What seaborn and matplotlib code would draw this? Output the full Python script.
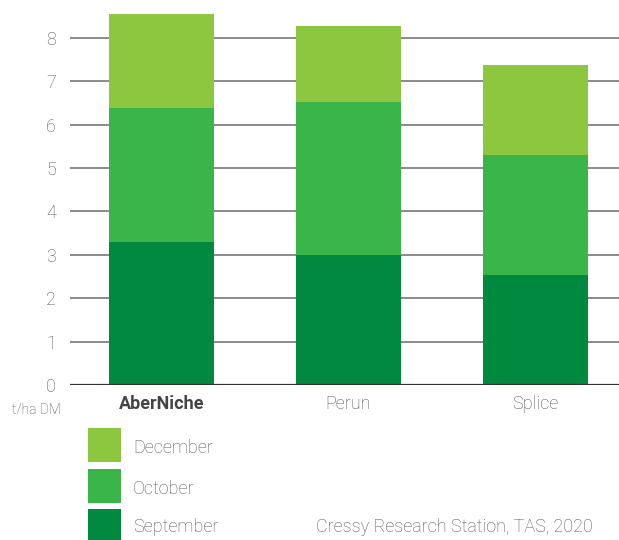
import matplotlib
matplotlib.use("Agg")
import matplotlib.pyplot as plt
import seaborn as sns
import pandas as pd
import numpy as np
from matplotlib.patches import Rectangle

categories = ["AberNiche", "Perun", "Splice"]
september = [3.30, 3.00, 2.53]
october = [3.08, 3.52, 2.77]
december = [2.17, 1.75, 2.07]
series_names = ["December", "October", "September"]
colors = {"September": "#00893F", "October": "#39B54A", "December": "#8DC63F"}
yticks = [0, 1, 2, 3, 4, 5, 6, 7, 8]

sns.set_style("white")
plt.rcParams['font.family'] = ['Roboto', 'DejaVu Sans']

TXT = "#555555"

fig = plt.figure(figsize=(6.19, 5.40), dpi=100)
ax = fig.add_axes([70/619, 1-385/540, 549/619, (385-3.3)/540])

sep = np.array(september)
octo = sep + np.array(october)
dec = octo + np.array(december)
df = pd.DataFrame({"cat": categories, "sep": sep, "oct": octo, "dec": dec})

for col, name in [("dec", "December"), ("oct", "October"), ("sep", "September")]:
    sns.barplot(data=df, x="cat", y=col, color=colors[name], width=0.5615,
                saturation=1, ax=ax, zorder=3, linewidth=0)

ax.set_ylim(0, 8.8)
ax.set_xlim(-0.489, 2.447)
ax.set_yticks(yticks)
ax.set_yticklabels([str(t) for t in yticks])
ax.grid(axis="y", color="#777777", linewidth=1.2, zorder=0)
ax.grid(axis="x", visible=False)
ax.axhline(0, color="#333333", linewidth=1.6, zorder=4)
for s in ax.spines.values():
    s.set_visible(False)
ax.tick_params(axis="y", length=0, pad=10, labelsize=13, labelcolor=TXT)
ax.tick_params(axis="x", length=0, pad=7, labelsize=13, labelcolor=TXT)
for lab in ax.get_yticklabels():
    lab.set_fontweight("light")
for lab in ax.get_xticklabels():
    if lab.get_text() == "AberNiche":
        lab.set_fontweight("bold")
        lab.set_color("#444444")
    else:
        lab.set_fontweight("light")
ax.set_xlabel("")
ax.set_ylabel("")

fig.text(36/619, 1-409/540, "t/ha DM", ha="center", va="center", fontsize=10,
         color=TXT, fontweight="light")

rows = [(428, 462), (469, 503), (509, 540)]
for (y0, y1), name in zip(rows, series_names):
    fig.add_artist(Rectangle((88/619, 1-y1/540), 33/619, (y1-y0)/540,
                             transform=fig.transFigure, color=colors[name], linewidth=0))
    fig.text(133/619, 1-((y0+y1)/2 + 3)/540, name, ha="left", va="center", fontsize=13,
             color=TXT, fontweight="light")

fig.text(593/619, 1-527.5/540, "Cressy Research Station, TAS, 2020", ha="right", va="center",
         fontsize=13, color=TXT, fontweight="light")

fig.savefig("out.png", dpi=100)
